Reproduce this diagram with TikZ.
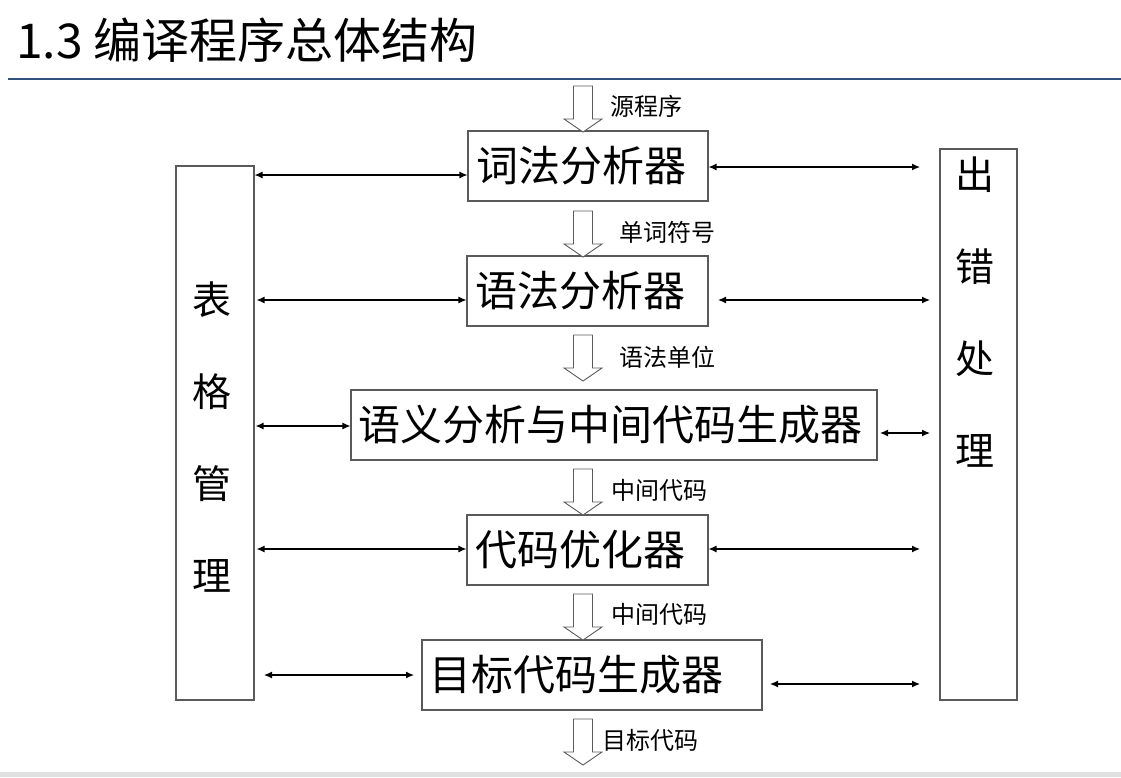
\documentclass[tikz,border=0pt]{standalone}
\usepackage{fontspec}
\setmainfont{Noto Sans CJK SC}
\usetikzlibrary{arrows.meta}
\definecolor{rulecol}{HTML}{34507F}
\definecolor{boxcol}{HTML}{5A5A5A}
\begin{document}
\begin{tikzpicture}[x=1pt,y=-1pt,
  box/.style={draw=boxcol,line width=1.1pt,inner sep=0pt},
  boxtext/.style={anchor=west,inner sep=0pt,font=\fontsize{42}{46}\selectfont},
  vtext/.style={align=center,inner sep=0pt,font=\fontsize{39}{92}\selectfont},
  lab/.style={anchor=west,inner sep=0pt,font=\fontsize{24}{26}\selectfont},
  link/.style={line width=1.2pt,{Latex[length=8pt,width=7pt]}-{Latex[length=8pt,width=7pt]}},
  harrow/.pic={\draw[draw=boxcol,fill=white,line width=0.9pt]
     (-9.5,0) -- (9.5,0) -- (9.5,33) -- (19,33) -- (0,46) -- (-19,33) -- (-9.5,33) -- cycle;}
]
\useasboundingbox (0,0) rectangle (1121,777);
\fill[black!12] (0,772) rectangle (1121,777);
\node[anchor=west,inner sep=0pt,font=\fontsize{48}{54}\selectfont] (title) at (16,40) {1.3 编译程序总体结构};
\draw[rulecol,line width=1.5pt] (8,79) -- (1121,79);

% main boxes
\node[box,minimum width=240pt,minimum height=70pt] (b1) at (588,166) {};
\node[boxtext] (t1) at (476,166) {词法分析器};
\node[box,minimum width=241pt,minimum height=70pt] (b2) at (587.5,291) {};
\node[boxtext] (t2) at (475,291) {语法分析器};
\node[box,minimum width=526pt,minimum height=70pt] (b3) at (614,425) {};
\node[boxtext] (t3) at (358,425) {语义分析与中间代码生成器};
\node[box,minimum width=241pt,minimum height=70pt] (b4) at (587.5,550) {};
\node[boxtext] (t4) at (475,550) {代码优化器};
\node[box,minimum width=340pt,minimum height=70pt] (b5) at (592,675) {};
\node[boxtext] (t5) at (429,675) {目标代码生成器};

% side boxes
\node[box,minimum width=78pt,minimum height=534pt] (tab) at (215,433) {};
\node[vtext] (tabt) at (212,437) {表\\格\\管\\理};
\node[box,minimum width=77pt,minimum height=551pt] (err) at (978.5,424.5) {};
\node[vtext] (errt) at (975,312) {出\\错\\处\\理};

% hollow arrows
\coordinate (a0) at (583,86);
\coordinate (a1) at (583,211);
\coordinate (a2) at (583,335);
\coordinate (a3) at (583,469);
\coordinate (a4) at (583,594);
\coordinate (a5) at (583,719);
\foreach \c in {a0,a1,a2,a3,a4,a5} \pic at (\c) {harrow};
\node[lab] (l0) at (610,106) {源程序};
\node[lab] (l1) at (619,232) {单词符号};
\node[lab] (l2) at (619,357) {语法单位};
\node[lab] (l3) at (611,490) {中间代码};
\node[lab] (l4) at (611,614) {中间代码};
\node[lab] (l5) at (602,740) {目标代码};

% left links
\draw[link] (tab.east |- 0,175) -- (b1.west |- 0,175);
\draw[link] ([xshift=2pt]tab.east |- 0,300) -- (b2.west |- 0,300);
\draw[link] ([xshift=1pt]tab.east |- 0,426) -- (b3.west |- 0,426);
\draw[link] ([xshift=2pt]tab.east |- 0,549) -- (b4.west |- 0,549);
\coordinate (l5a) at (264,675);
\coordinate (l5b) at (414,675);
\draw[link] (l5a) -- (l5b);

% right links
\coordinate (r1) at (920,167);
\draw[link] (b1.east |- r1) -- (r1);
\coordinate (r2a) at (718,300);
\coordinate (r2b) at (930,300);
\draw[link] (r2a) -- (r2b);
\coordinate (r3a) at (880,433);
\coordinate (r3b) at (930,433);
\draw[link] (r3a) -- (r3b);
\coordinate (r4) at (920,549);
\draw[link] (b4.east |- r4) -- (r4);
\coordinate (r5a) at (770,684);
\coordinate (r5b) at (920,684);
\draw[link] (r5a) -- (r5b);
\end{tikzpicture}
\end{document}
